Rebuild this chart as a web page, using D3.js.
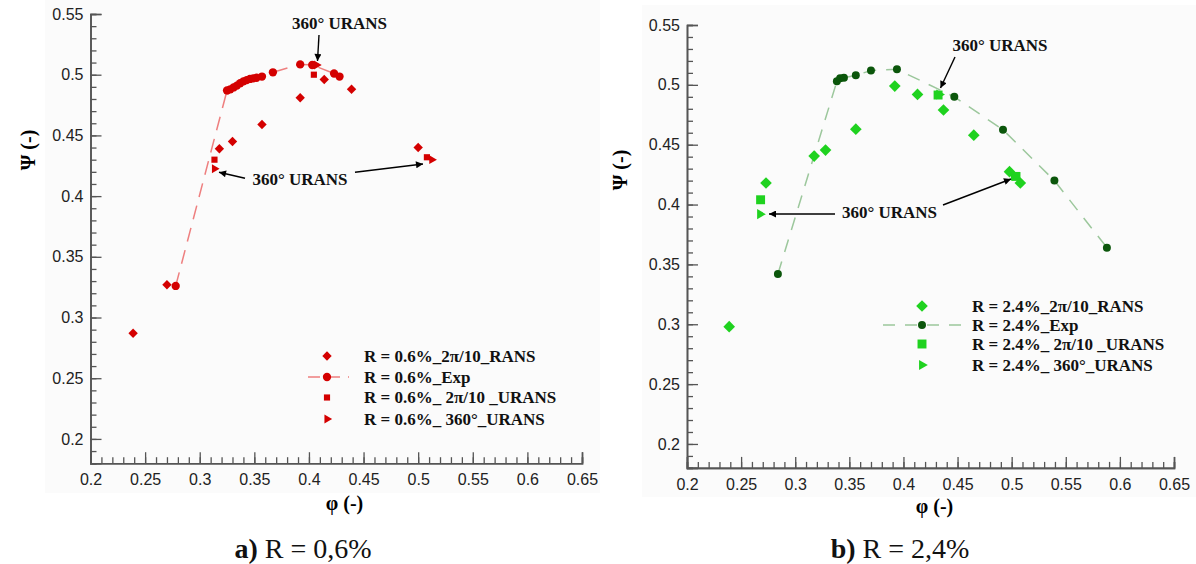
<!DOCTYPE html>
<html>
<head>
<meta charset="utf-8">
<script src="https://cdn.jsdelivr.net/npm/d3@7"></script>
<style>
  html, body { margin: 0; padding: 0; background: #ffffff; }
  svg { display: block; }
</style>
</head>
<body>
<svg id="chart" width="1196" height="564"></svg>
<script>
// ---------------- DATA ----------------
// Axis ticks
const xTickValues = [0.2, 0.25, 0.3, 0.35, 0.4, 0.45, 0.5, 0.55, 0.6, 0.65];
const xTickLabels = ["0.2", "0.25", "0.3", "0.35", "0.4", "0.45", "0.5", "0.55", "0.6", "0.65"];
const yTickValues = [0.2, 0.25, 0.3, 0.35, 0.4, 0.45, 0.5, 0.55];
const yTickLabels = ["0.2", "0.25", "0.3", "0.35", "0.4", "0.45", "0.5", "0.55"];

// Panel a) R = 0.6 %
const aRansPhi = [0.239, 0.270, 0.318, 0.330, 0.357, 0.392, 0.414, 0.439, 0.500];
const aRansPsi = [0.287, 0.327, 0.439, 0.445, 0.459, 0.481, 0.496, 0.488, 0.440];
const aExpPhi = [0.278, 0.325, 0.328, 0.331, 0.334, 0.337, 0.340, 0.343, 0.346, 0.349, 0.352, 0.357, 0.367, 0.392, 0.403, 0.423, 0.428];
const aExpPsi = [0.326, 0.487, 0.488, 0.4895, 0.491, 0.493, 0.4945, 0.4955, 0.4965, 0.497, 0.4975, 0.4985, 0.502, 0.5085, 0.508, 0.501, 0.4985];
const aUransPhi = [0.3135, 0.4045, 0.508];
const aUransPsi = [0.430, 0.500, 0.432];
const a360Phi = [0.3135, 0.407, 0.5125];
const a360Psi = [0.4225, 0.508, 0.430];

// Panel b) R = 2.4 %
const bRansPhi = [0.239, 0.273, 0.3175, 0.328, 0.356, 0.392, 0.413, 0.437, 0.465, 0.498, 0.508];
const bRansPsi = [0.298, 0.418, 0.4405, 0.4455, 0.463, 0.499, 0.492, 0.479, 0.458, 0.4275, 0.418];
const bExpPhi = [0.284, 0.3385, 0.3415, 0.345, 0.356, 0.370, 0.394, 0.447, 0.492, 0.5395, 0.588];
const bExpPsi = [0.342, 0.503, 0.5055, 0.506, 0.508, 0.512, 0.513, 0.490, 0.4625, 0.420, 0.364];
const bUransPhi = [0.268, 0.432, 0.504];
const bUransPsi = [0.404, 0.4915, 0.4235];
const b360Phi = [0.2675, 0.433, 0.502];
const b360Psi = [0.392, 0.492, 0.424];

const aLegend = ["R = 0.6%_2\u03c0/10_RANS", "R = 0.6%_Exp", "R = 0.6%_ 2\u03c0/10 _URANS", "R = 0.6%_ 360\u00b0_URANS"];
const bLegend = ["R = 2.4%_2\u03c0/10_RANS", "R = 2.4%_Exp", "R = 2.4%_ 2\u03c0/10 _URANS", "R = 2.4%_ 360\u00b0_URANS"];

// ---------------- DRAWING ----------------
const svg = d3.select("#chart");
const zip = (a, b) => a.map((v, i) => [v, b[i]]);
const serif = "'Liberation Serif', 'Times New Roman', serif";
const sans = "'Liberation Sans', Arial, sans-serif";

// faint panel backgrounds
svg.append("rect").attr("x", 45).attr("y", 0).attr("width", 555).attr("height", 493).attr("fill", "#fbfbfb");
svg.append("rect").attr("x", 642).attr("y", 5).attr("width", 554).attr("height", 492).attr("fill", "#fbfbfb");

const defs = svg.append("defs");
defs.append("marker").attr("id", "arrow").attr("viewBox", "0 0 10 10")
  .attr("refX", 10).attr("refY", 5).attr("markerWidth", 9).attr("markerHeight", 7)
  .attr("markerUnits", "userSpaceOnUse").attr("orient", "auto")
  .append("path").attr("d", "M0,0 L10,5 L0,10 Z").attr("fill", "#000");

function panel(cfg) {
  const x = d3.scaleLinear().domain([0.2, 0.65]).range(cfg.xRange);
  const y = d3.scaleLinear().domain([0.18, 0.55]).range(cfg.yRange);
  const g = svg.append("g");

  // minor ticks
  const minorX = d3.range(0.2, 0.6501, 0.01).map(v => +v.toFixed(2));
  const minorY = d3.range(0.18, 0.5501, 0.01).map(v => +v.toFixed(2));
  const axX = g.append("g").attr("transform", `translate(0,${cfg.yRange[0]})`)
    .call(d3.axisBottom(x).tickValues(minorX).tickSize(-6).tickFormat(""));
  const axXM = g.append("g").attr("transform", `translate(0,${cfg.yRange[0]})`)
    .call(d3.axisBottom(x).tickValues(xTickValues).tickSize(-11).tickPadding(18)
      .tickFormat((d, i) => xTickLabels[i]));
  const axY = g.append("g").attr("transform", `translate(${cfg.xRange[0]},0)`)
    .call(d3.axisLeft(y).tickValues(minorY).tickSize(-6).tickFormat(""));
  const axYM = g.append("g").attr("transform", `translate(${cfg.xRange[0]},0)`)
    .call(d3.axisLeft(y).tickValues(yTickValues).tickSize(-11).tickPadding(7)
      .tickFormat((d, i) => yTickLabels[i]));
  [axX, axXM, axY, axYM].forEach(a => {
    a.selectAll("path.domain").attr("stroke", "#555").attr("stroke-width", 1.6);
    a.selectAll(".tick line").attr("stroke", "#555").attr("stroke-width", 1.3);
    a.selectAll(".tick text").attr("font-family", sans).attr("font-size", 16).attr("fill", "#222");
  });
  axXM.selectAll(".tick text").attr("dy", "0.25em");

  // axis titles
  g.append("text").attr("x", cfg.xTitle[0]).attr("y", cfg.xTitle[1]).attr("text-anchor", "middle")
    .attr("font-family", serif).attr("font-weight", "bold").attr("font-size", 20).text("\u03c6 (-)");
  g.append("text").attr("transform", `translate(${cfg.yTitle[0]},${cfg.yTitle[1]}) rotate(-90)`)
    .attr("text-anchor", "middle").attr("font-family", serif).attr("font-weight", "bold")
    .attr("font-size", 20).text("\u03a8 (-)");

  // experimental dashed line
  const line = d3.line().x(d => x(d[0])).y(d => y(d[1]));
  g.append("path").datum(zip(cfg.expPhi, cfg.expPsi)).attr("d", line)
    .attr("fill", "none").attr("stroke", cfg.lineColor).attr("stroke-width", 1.5)
    .attr("stroke-dasharray", cfg.dash);

  const diamond = d3.symbol(d3.symbolSquare, cfg.size.diamond);
  const circle = d3.symbol(d3.symbolCircle, cfg.size.circle);
  const square = d3.symbol(d3.symbolSquare, cfg.size.square);
  const tri = d3.symbol(d3.symbolTriangle, cfg.size.tri);

  g.append("g").selectAll("path").data(zip(cfg.triPhi, cfg.triPsi)).join("path")
    .attr("d", tri).attr("fill", cfg.c360)
    .attr("transform", d => `translate(${x(d[0])},${y(d[1])}) rotate(90)`);
  g.append("g").selectAll("path").data(zip(cfg.ransPhi, cfg.ransPsi)).join("path")
    .attr("d", diamond).attr("fill", cfg.cRans)
    .attr("transform", d => `translate(${x(d[0])},${y(d[1])}) rotate(45)`);
  g.append("g").selectAll("path").data(zip(cfg.expPhi, cfg.expPsi)).join("path")
    .attr("d", circle).attr("fill", cfg.cExp)
    .attr("transform", d => `translate(${x(d[0])},${y(d[1])})`);
  g.append("g").selectAll("path").data(zip(cfg.sqPhi, cfg.sqPsi)).join("path")
    .attr("d", square).attr("fill", cfg.cUrans)
    .attr("transform", d => `translate(${x(d[0])},${y(d[1])})`);

  // legend
  const L = cfg.legend;
  const lg = g.append("g");
  L.rows.forEach((ry, i) => {
    lg.append("text").attr("x", L.textX).attr("y", ry + 5.5).attr("font-family", serif)
      .attr("font-weight", "bold").attr("font-size", 17).attr("fill", "#111").text(cfg.labels[i]);
  });
  lg.append("path").attr("d", diamond).attr("fill", cfg.cRans)
    .attr("transform", `translate(${L.mx},${L.rows[0]}) rotate(45)`);
  lg.append("line").attr("x1", L.lineX[0]).attr("x2", L.lineX[1]).attr("y1", L.rows[1]).attr("y2", L.rows[1])
    .attr("stroke", cfg.lineColor).attr("stroke-width", 1.5).attr("stroke-dasharray", L.dash);
  lg.append("path").attr("d", circle).attr("fill", cfg.cExp)
    .attr("transform", `translate(${L.mx},${L.rows[1]})`);
  lg.append("path").attr("d", square).attr("fill", cfg.cUrans)
    .attr("transform", `translate(${L.mx},${L.rows[2]})`);
  lg.append("path").attr("d", tri).attr("fill", cfg.c360)
    .attr("transform", `translate(${L.mx},${L.rows[3]}) rotate(90)`);

  // annotations
  cfg.notes.forEach(n => {
    g.append("text").attr("x", n.t[0]).attr("y", n.t[1]).attr("text-anchor", "middle")
      .attr("font-family", serif).attr("font-weight", "bold").attr("font-size", 17).attr("fill", "#111")
      .text("360\u00b0 URANS");
  });
  cfg.arrows.forEach(a => {
    g.append("line").attr("x1", a[0]).attr("y1", a[1]).attr("x2", a[2]).attr("y2", a[3])
      .attr("stroke", "#000").attr("stroke-width", 1.4).attr("marker-end", "url(#arrow)");
  });

  // caption
  const cap = svg.append("text").attr("x", cfg.caption[0]).attr("y", cfg.caption[1]).attr("text-anchor", "middle")
    .attr("font-family", serif).attr("font-size", 28).attr("fill", "#111");
  cap.append("tspan").attr("font-weight", "bold").text(cfg.captionParts[0]);
  cap.append("tspan").text(cfg.captionParts[1]);
}

panel({
  xRange: [90.5, 582], yRange: [463.2, 14],
  xTitle: [344.5, 510], yTitle: [35, 150],
  expPhi: aExpPhi, expPsi: aExpPsi, ransPhi: aRansPhi, ransPsi: aRansPsi,
  sqPhi: aUransPhi, sqPsi: aUransPsi, triPhi: a360Phi, triPsi: a360Psi,
  cRans: "#d40000", cExp: "#d40000", cUrans: "#d40000", c360: "#d40000",
  lineColor: "#ee7f7f", dash: "14,9",
  size: { diamond: 44, circle: 54, square: 38, tri: 34 },
  labels: aLegend,
  legend: { rows: [356, 377, 397.5, 419], mx: 327, textX: 364, lineX: [308, 349], dash: "12,8" },
  notes: [{ t: [339.5, 28.5] }, { t: [300, 185] }],
  arrows: [[319, 35, 317.5, 61], [245, 178.3, 219, 172.2], [355, 172.3, 423, 164]],
  caption: [303, 558], captionParts: ["a)", " R = 0,6%"]
});

panel({
  xRange: [687, 1174], yRange: [467.9, 25],
  xTitle: [934.5, 513], yTitle: [627, 170],
  expPhi: bExpPhi, expPsi: bExpPsi, ransPhi: bRansPhi, ransPsi: bRansPsi,
  sqPhi: bUransPhi, sqPsi: bUransPsi, triPhi: b360Phi, triPsi: b360Psi,
  cRans: "#1fd21f", cExp: "#0b560b", cUrans: "#1fd21f", c360: "#1fd21f",
  lineColor: "#9cc79c", dash: "13,10",
  size: { diamond: 68, circle: 50, square: 80, tri: 44 },
  labels: bLegend,
  legend: { rows: [306, 325, 344, 365], mx: 922, textX: 972, lineX: [883, 962], dash: "12,10" },
  notes: [{ t: [1000, 51] }, { t: [889.5, 218] }],
  arrows: [[955, 57, 940.5, 88], [835, 214, 769, 214], [943, 205, 1011, 179]],
  caption: [900, 558], captionParts: ["b)", " R = 2,4%"]
});
</script>
</body>
</html>
